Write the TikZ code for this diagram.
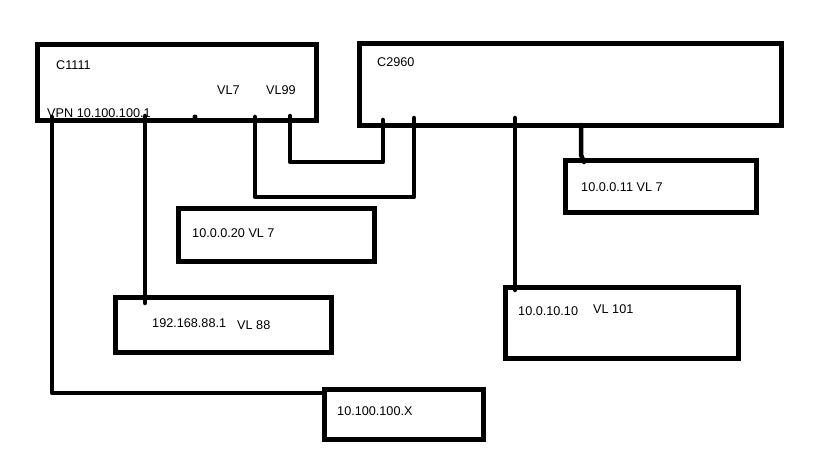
\documentclass[tikz,border=0pt]{standalone}
\usepackage{fontspec}
\setmainfont{Liberation Sans}
\usetikzlibrary{calc}
\newcommand{\pxu}{0.03cm}

\begin{document}
\begin{tikzpicture}[x=\pxu,y=-\pxu,
  box/.style={draw,line width=5*\pxu,inner sep=0pt,outer sep=0pt},
  wire/.style={line width=4.5*\pxu,line cap=round,line join=round},
  lbl/.style={anchor=west,inner sep=0pt,font=\fontsize{10.8}{13}\selectfont}]
  \fill[white] (0,0) rectangle (819,460);
  \useasboundingbox (0,0) rectangle (819,460);
  % router and switch
  \node[box,minimum width=279*\pxu,minimum height=76*\pxu] (c1111) at (176.5,83) {};
  \node[box,minimum width=422*\pxu,minimum height=82*\pxu] (c2960) at (570,85) {};
  % hosts
  \node[box,minimum width=196*\pxu,minimum height=53*\pxu] (h20) at (276,235.5) {};
  \node[box,minimum width=216*\pxu,minimum height=55*\pxu] (h88) at (223,324.5) {};
  \node[box,minimum width=191*\pxu,minimum height=52*\pxu] (h11) at (660.5,187) {};
  \node[box,minimum width=233*\pxu,minimum height=71*\pxu] (h10) at (621.5,322.5) {};
  \node[box,minimum width=159*\pxu,minimum height=50*\pxu] (hX) at (403.5,414) {};
  % texts
  \node[lbl] (t-c1111) at (56,65) {C1111};
  \node[lbl] (t-vl7) at (217,90) {VL7};
  \node[lbl] (t-vl99) at (266,90) {VL99};
  \node[lbl] (t-vpn) at (47,113) {VPN 10.100.100.1};
  \node[lbl] (t-c2960) at (377,62) {C2960};
  \node[lbl] (t-h20) at (192,233) {10.0.0.20 VL 7};
  \node[lbl] (t-h88) at (152,323) {192.168.88.1};
  \node[lbl] (t-vl88) at (237,325) {VL 88};
  \node[lbl] (t-h11) at (581,187) {10.0.0.11 VL 7};
  \node[lbl] (t-h10) at (518,311) {10.0.10.10};
  \node[lbl] (t-vl101) at (593,309) {VL 101};
  \node[lbl] (t-hX) at (337,411) {10.100.100.X};
  % links
  \draw[wire] ($(c1111.south west)+(15,-4)$) |- ($(hX.north west)+(0,4)$);
  \draw[wire] ($(c1111.south west)+(108,-5)$) -- ($(h88.north west)+(30,6)$);
  \fill ($(c1111.south west)+(158,-4)$) circle [radius=2.5];
  \draw[wire] ($(c1111.south west)+(218,-4)$) -- ++(0,80) -| ($(c2960.south west)+(55,-8)$);
  \draw[wire] ($(c1111.south west)+(253,-5)$) -- ++(0,46) -| ($(c2960.south west)+(24,-6)$);
  \draw[wire] ($(c2960.south west)+(156,-8)$) -- ($(h10.north west)+(10,3)$);
  \draw[wire] ($(c2960.south west)+(222,-1)$) -- ++(0,30) -- ($(h11.north west)+(19,1)$);
\end{tikzpicture}
\end{document}
